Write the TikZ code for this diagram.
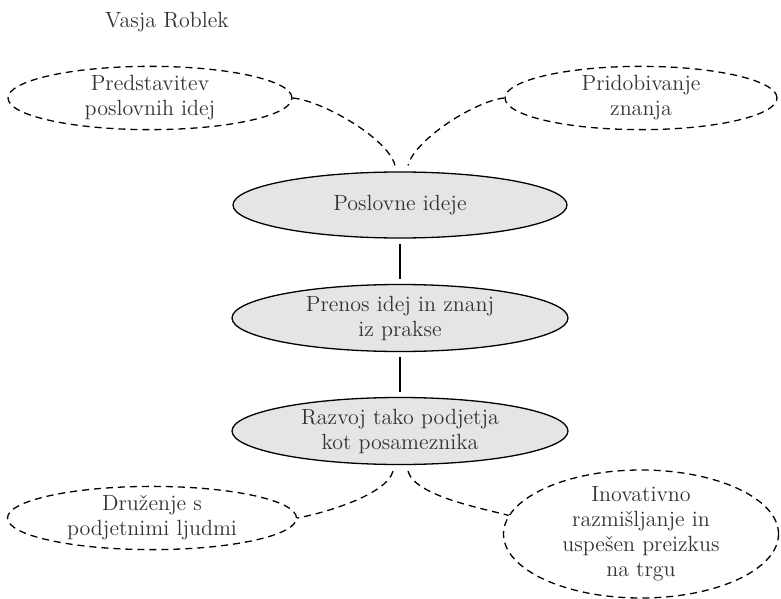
\documentclass[tikz,border=0pt]{standalone}
\usetikzlibrary{shapes.geometric}
\begin{document}
\begin{tikzpicture}[x=0.5pt,y=-0.5pt,
  every node/.style={text=black!80,font=\fontsize{11}{12.5}\selectfont},
  idea/.style={ellipse,draw,dash pattern=on 3.5pt off 2.5pt,line width=0.65pt,align=center,inner sep=0pt},
  core/.style={ellipse,draw,fill=black!10,line width=0.65pt,align=center,inner sep=0pt,minimum width=168pt,minimum height=33.5pt},
  link/.style={draw,dash pattern=on 3.5pt off 2.5pt,line width=0.65pt,looseness=0.6}]
\useasboundingbox (0,0) rectangle (781,599);
\node (avtor) at (167,22) {Vasja Roblek};
\node[idea,minimum width=142pt,minimum height=31pt] (pred) at (150,98) {Predstavitev\\poslovnih idej};
\node[idea,minimum width=136pt,minimum height=31pt] (prid) at (641,98) {Pridobivanje\\znanja};
\node[core,minimum width=167pt,minimum height=33pt] (ideje) at (400,205) {Poslovne ideje};
\node[core] (prenos) at (400,318) {Prenos idej in znanj\\iz prakse};
\node[core] (razvoj) at (400,431) {Razvoj tako podjetja\\kot posameznika};
\node[idea,minimum width=144.5pt,minimum height=31.5pt] (druz) at (152,518) {Druženje s\\podjetnimi ljudmi};
\node[idea,minimum width=137.5pt,minimum height=64pt,inner sep=-2pt] (inov) at (641,534) {Inovativno\\razmišljanje in\\uspešen preizkus\\na trgu};
\path[link]
(pred.east) edge[out=-5,in=105] ([xshift=-2.5pt,yshift=3pt]ideje.north)
(prid.west) edge[out=185,in=75] ([xshift=4pt,yshift=3pt]ideje.north)
([xshift=-3.5pt,yshift=-3pt]razvoj.south) edge[out=-105,in=10] (druz.east)
([xshift=4pt,yshift=-3pt]razvoj.south) edge[out=-75,in=165] (inov.172);
\path[draw,line width=0.65pt,shorten <=2.5pt,shorten >=2.5pt]
(ideje) edge (prenos)
(prenos) edge (razvoj);
\end{tikzpicture}
\end{document}
